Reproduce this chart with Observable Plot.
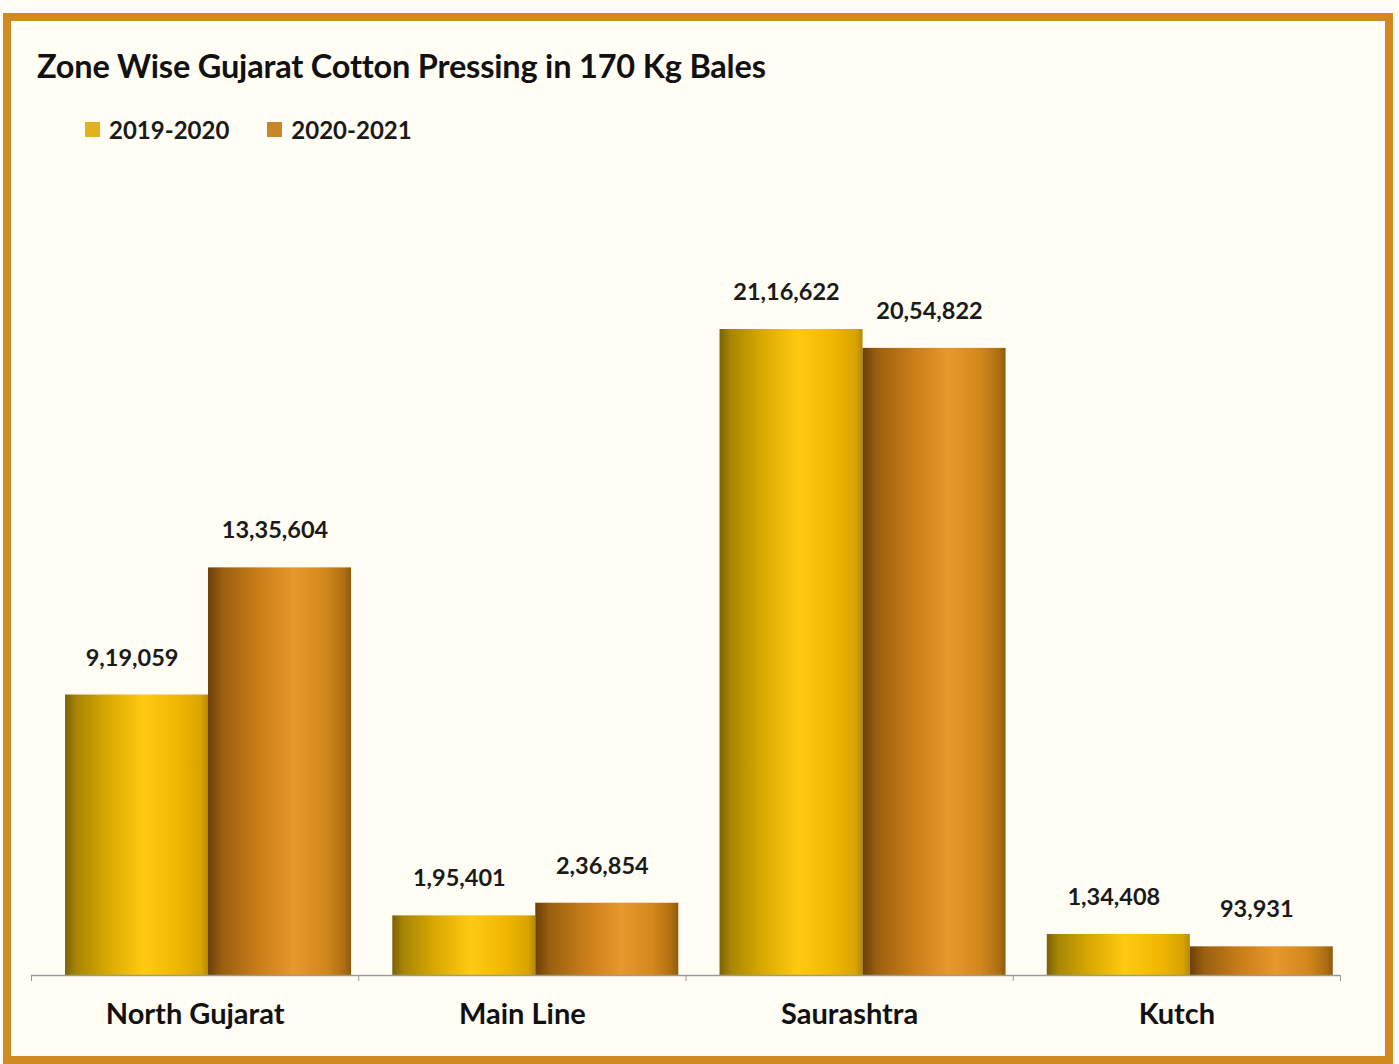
<!DOCTYPE html>
<html>
<head>
<meta charset="utf-8">
<script src="https://cdn.jsdelivr.net/npm/d3@7"></script>
<script src="https://cdn.jsdelivr.net/npm/@observablehq/plot@0.6"></script>
<style>
  html, body { margin: 0; padding: 0; background: #fffdf4; width: 1399px; height: 1064px; overflow: hidden; }
  body { position: relative; font-family: Lato, "Open Sans", sans-serif; }
  #frame { position: absolute; left: 3px; top: 13px; width: 1390px; height: 1051px; box-sizing: border-box;
           border: 8px solid #d18a22; background: #fffdf4; }
  #title { position: absolute; left: 37px; top: 46px; font-size: 32.5px; font-weight: 700; color: #111; white-space: nowrap; letter-spacing: -0.2px; }
  #legend { position: absolute; left: 85px; top: 115px; display: flex; align-items: center; font-size: 24px; font-weight: 700; color: #1a1a1a; }
  .item { display: flex; align-items: center; margin-right: 38px; }
  .sw { width: 15px; height: 15px; margin-right: 9px; }
  #chart { position: absolute; left: 0; top: 150px; }
</style>
</head>
<body>
<div id="frame"></div>
<div id="title">Zone Wise Gujarat Cotton Pressing in 170 Kg Bales</div>
<div id="legend"></div>
<div id="chart"></div>
<script>
const zones = ["North Gujarat", "Main Line", "Saurashtra", "Kutch"];
const years = ["2019-2020", "2020-2021"];
const pressing2019 = [919059, 195401, 2116622, 134408];
const pressing2020 = [1335604, 236854, 2054822, 93931];
const legendColors = ["#e2b21d", "#c98526"];

function indian(n) {
  const s = String(n);
  if (s.length <= 3) return s;
  const last3 = s.slice(-3);
  const rest = s.slice(0, -3);
  return rest.replace(/\B(?=(\d{2})+(?!\d))/g, ",") + "," + last3;
}

const rows = zones.flatMap((zone, zi) => [
  {zone, zi, year: years[0], yi: 0, value: pressing2019[zi]},
  {zone, zi, year: years[1], yi: 1, value: pressing2020[zi]}
]);

// legend
const legend = document.getElementById("legend");
years.forEach((y, i) => {
  const it = document.createElement("div");
  it.className = "item";
  it.innerHTML = `<span class="sw" style="background:${legendColors[i]}"></span><span>${y}</span>`;
  legend.appendChild(it);
});

const PAD = 0.104, W = 0.437;

const svg = Plot.plot({
  width: 1399,
  height: 900,
  marginLeft: 31,
  marginRight: 59,
  marginTop: 62,
  marginBottom: 75,
  style: {background: "transparent", color: "#9a9a9a", fontFamily: "Lato, sans-serif", overflow: "visible"},
  x: {domain: [0, zones.length], ticks: 4, tickSize: 6, tickFormat: () => "", label: null},
  y: {domain: [0, 2500000], axis: null},
  color: {type: "ordinal", domain: years, range: ["url(#grad2019)", "url(#grad2020)"]},
  marks: [
    Plot.rectY(rows, {
      x1: d => d.zi + PAD + d.yi * W,
      x2: d => d.zi + PAD + (d.yi + 1) * W,
      y: "value",
      fill: "year"
    }),
    Plot.ruleY([0], {stroke: "#9a9a9a", strokeWidth: 1.5}),
    Plot.text(rows, {
      x: d => d.zi + PAD + (d.yi + 0.5) * W,
      y: "value",
      text: d => indian(d.value),
      dy: -37,
      dx: -5,
      fill: "#1a1a1a",
      fontSize: 23.5,
      fontWeight: 700
    }),
    Plot.text(zones, {
      x: (d, i) => i + 0.5,
      frameAnchor: "bottom",
      lineAnchor: "middle",
      text: d => d,
      dy: 39,
      fill: "#111",
      fontSize: 29,
      fontWeight: 700
    })
  ]
});

const defs = d3.select(svg).insert("defs", ":first-child");
const g1 = defs.append("linearGradient").attr("id", "grad2019").attr("x1", 0).attr("x2", 1).attr("y1", 0).attr("y2", 0);
[[0, "#7a6205"], [0.08, "#a88604"], [0.3, "#d9a902"], [0.55, "#ffca12"], [0.8, "#efb600"], [0.95, "#d9a300"], [1, "#b58a02"]]
  .forEach(([o, c]) => g1.append("stop").attr("offset", o).attr("stop-color", c));
const g2 = defs.append("linearGradient").attr("id", "grad2020").attr("x1", 0).attr("x2", 1).attr("y1", 0).attr("y2", 0);
[[0, "#6a400a"], [0.1, "#9a5f10"], [0.35, "#c97d18"], [0.6, "#e8982b"], [0.82, "#d3881c"], [0.95, "#b06e12"], [1, "#8f5a0e"]]
  .forEach(([o, c]) => g2.append("stop").attr("offset", o).attr("stop-color", c));

document.getElementById("chart").appendChild(svg);
</script>
</body>
</html>
